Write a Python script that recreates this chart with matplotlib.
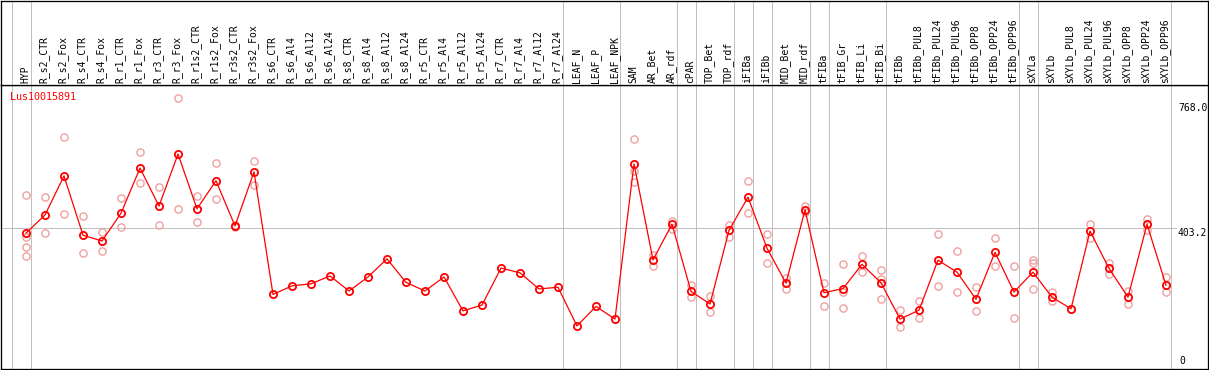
import matplotlib
matplotlib.use("Agg")
import matplotlib.pyplot as plt
import matplotlib.transforms as mtransforms

categories = ["HYP", "R_s2_CTR", "R_s2_Fox", "R_s4_CTR", "R_s4_Fox", "R_r1_CTR", "R_r1_Fox",
              "R_r3_CTR", "R_r3_Fox", "R_r1s2_CTR", "R_r1s2_Fox", "R_r3s2_CTR", "R_r3s2_Fox",
              "R_s6_CTR", "R_s6_Al4", "R_s6_Al12", "R_s6_Al24", "R_s8_CTR", "R_s8_Al4",
              "R_s8_Al12", "R_s8_Al24", "R_r5_CTR", "R_r5_Al4", "R_r5_Al12", "R_r5_Al24",
              "R_r7_CTR", "R_r7_Al4", "R_r7_Al12", "R_r7_Al24", "LEAF_N", "LEAF_P", "LEAF_NPK",
              "SAM", "AR_Bet", "AR_rdf", "cPAR", "TOP_Bet", "TOP_rdf", "iFIBa", "iFIBb",
              "MID_Bet", "MID_rdf", "tFIBa", "tFIB_Gr", "tFIB_Li", "tFIB_Bi", "tFIBb",
              "tFIBb_PUL8", "tFIBb_PUL24", "tFIBb_PUL96", "tFIBb_OPP8", "tFIBb_OPP24",
              "tFIBb_OPP96", "sXYLa", "sXYLb", "sXYLb_PUL8", "sXYLb_PUL24", "sXYLb_PUL96",
              "sXYLb_OPP8", "sXYLb_OPP24", "sXYLb_OPP96"]

mean_values = [388, 441, 555, 382, 365, 446, 578, 467, 619, 459, 541, 409, 567,
               209, 234, 240, 263, 219, 260, 313, 244, 219, 260, 161, 178,
               286, 272, 225, 230, 117, 174, 137,
               590, 310, 414, 218, 181, 396, 493, 344, 242, 456,
               214, 226, 297, 243, 137, 163, 309, 274, 195, 332, 216,
               274, 201, 167, 394, 285, 201, 414, 236]

replicates = {
    "HYP": [498, 378, 347, 320],
    "R_s2_CTR": [494, 388],
    "R_s2_Fox": [668, 443],
    "R_s4_CTR": [438, 329],
    "R_s4_Fox": [391, 335],
    "R_r1_CTR": [491, 405],
    "R_r1_Fox": [625, 534],
    "R_r3_CTR": [522, 412],
    "R_r3_Fox": [782, 459],
    "R_r1s2_CTR": [496, 420],
    "R_r1s2_Fox": [593, 488],
    "R_r3s2_CTR": [405, 412],
    "R_r3s2_Fox": [599, 530],
    "SAM": [663, 569, 537],
    "AR_Bet": [324, 291],
    "AR_rdf": [424, 399],
    "cPAR": [237, 201],
    "TOP_Bet": [204, 157],
    "TOP_rdf": [413, 378],
    "iFIBa": [540, 446],
    "iFIBb": [385, 301],
    "MID_Bet": [258, 225],
    "MID_rdf": [468, 449],
    "tFIBa": [242, 174],
    "tFIB_Gr": [298, 217, 169],
    "tFIB_Li": [321, 274],
    "tFIB_Bi": [279, 254, 195],
    "tFIBb": [164, 113],
    "tFIBb_PUL8": [190, 139],
    "tFIBb_PUL24": [385, 234],
    "tFIBb_PUL96": [335, 216],
    "tFIBb_OPP8": [230, 161],
    "tFIBb_OPP24": [373, 291],
    "tFIBb_OPP96": [291, 139],
    "sXYLa": [309, 301, 224],
    "sXYLb": [216, 189],
    "sXYLb_PUL8": [167],
    "sXYLb_PUL24": [414, 373],
    "sXYLb_PUL96": [302, 268],
    "sXYLb_OPP8": [220, 182],
    "sXYLb_OPP24": [429, 396],
    "sXYLb_OPP96": [259, 215],
}

group_ends = ["HYP", "R_r7_Al24", "LEAF_NPK", "AR_rdf", "cPAR", "TOP_rdf", "iFIBa", "iFIBb",
              "MID_rdf", "tFIBa", "tFIB_Bi", "tFIBb_OPP96", "sXYLa", "sXYLb_OPP96"]
gene_name = "Lus10015891"
y_ticks = [0, 403.2, 768.0]
y_tick_labels = ["0", "403.2", "768.0"]

# ---- geometry (pixels) ----
W, H = 1209, 370
x0_px, dx_px = 26.0, 19.0          # pixel x of first category, spacing
y0_px, ppu = 366.0, 0.34245        # pixel y of value 0, pixels per unit
top_sep, bottom_px = 85.0, 369.0
left_px, right_px = 1.0, 1208.0

def px_to_idx(px):
    return (px - x0_px) / dx_px

def py_to_val(py):
    return (y0_px - py) / ppu

font = "DejaVu Sans Mono"
grid_c = "#c0c0c0"
red = "#ff0000"
pink = "#f0a0a0"
lw1 = 0.72

fig = plt.figure(figsize=(W / 100, H / 100), dpi=100)
fig.patch.set_facecolor("white")

ax = fig.add_axes([left_px / W, (H - bottom_px) / H, (right_px - left_px) / W, (bottom_px - top_sep) / H])
hx = fig.add_axes([left_px / W, (H - top_sep) / H, (right_px - left_px) / W, (top_sep - 0.5) / H], sharex=ax)

xlim = (px_to_idx(left_px), px_to_idx(right_px))
ax.set_xlim(*xlim)
ax.set_ylim(py_to_val(bottom_px), py_to_val(top_sep))
hx.set_ylim(0, 1)

for a in (ax, hx):
    a.set_xticks([])
    a.set_yticks([])
    for s in a.spines.values():
        s.set_color("black")
        s.set_linewidth(lw1 * 1.3)

# vertical grid lines
idx_of = {c: i for i, c in enumerate(categories)}
grid_x = [-1 + 0.247] + [idx_of[g] + 0.247 for g in group_ends]
for gx in grid_x:
    ax.axvline(gx, color=grid_c, lw=lw1, zorder=0)
    hx.axvline(gx, color=grid_c, lw=lw1, zorder=0)

# horizontal grid line at middle tick
ax.plot([xlim[0], px_to_idx(1176)], [y_ticks[1], y_ticks[1]], color=grid_c, lw=lw1, zorder=0)

# replicate points
rx, ry = [], []
for c, vals in replicates.items():
    for v in vals:
        rx.append(idx_of[c])
        ry.append(v)
ax.plot(rx, ry, linestyle="none", marker="o", markersize=5.2, markerfacecolor="none",
        markeredgecolor=pink, markeredgewidth=1.0, zorder=2)

# mean line + markers
xs = list(range(len(categories)))
ax.plot(xs, mean_values, color=red, lw=0.9, marker="o", markersize=5.2,
        markerfacecolor="none", markeredgecolor=red, markeredgewidth=1.3, zorder=3)

# category labels
for i, c in enumerate(categories):
    hx.text(i - 0.05, (top_sep - 83) / top_sep, c, rotation=90, ha="center", va="bottom",
            fontsize=7, family=font, color="black")

# gene name
ax.text(px_to_idx(10), py_to_val(96.5), gene_name, ha="left", va="center",
        fontsize=7.2, family=font, color=red)

# right-side value labels
lx = px_to_idx(1178)
ax.text(lx, y_ticks[2], y_tick_labels[2], ha="left", va="top", fontsize=7, family=font, color="black", clip_on=True)
ax.text(lx, y_ticks[1], y_tick_labels[1], ha="left", va="top", fontsize=7, family=font, color="black")
ax.text(px_to_idx(1179), y_ticks[0], y_tick_labels[0], ha="left", va="bottom", fontsize=7, family=font, color="black")

fig.savefig("out.png", dpi=100, facecolor="white")
